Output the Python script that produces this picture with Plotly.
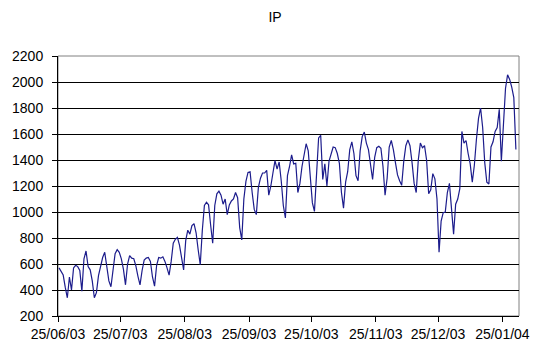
import pandas as pd
import plotly.graph_objects as go

start_date = "2003-06-25 12:00"
ip_values = [
    570, 545, 515, 420, 340, 500, 400, 570, 590, 580,
    550, 390, 640, 700, 580, 555, 470, 340, 380, 510,
    590, 650, 690, 560, 470, 425, 560, 680, 710, 690,
    640, 560, 440, 600, 665, 645, 640, 585, 505, 440,
    550, 630, 645, 650, 620, 500, 430, 590, 650, 645,
    655, 620, 570, 515, 620, 760, 790, 805, 745, 640,
    555, 780, 860, 830, 895, 910, 840, 710, 595, 860,
    1050, 1075, 1055, 900, 760, 1050, 1140, 1160, 1130, 1060,
    1100, 980, 1055, 1085, 1100, 1150, 1110, 880, 785, 1100,
    1235, 1305, 1310, 1150, 1020, 980, 1190, 1260, 1300, 1300,
    1320, 1130, 1200, 1300, 1395, 1330, 1385, 1240, 1050, 955,
    1280, 1350, 1440, 1370, 1375, 1150, 1220, 1350, 1450, 1525,
    1470, 1250, 1070, 1005, 1320, 1570, 1590, 1250, 1370, 1200,
    1390, 1450, 1500, 1495, 1450, 1375, 1150, 1030, 1230, 1310,
    1480, 1540, 1450, 1280, 1240, 1470, 1580, 1615, 1530, 1480,
    1350, 1250, 1420, 1495, 1505, 1490, 1350, 1130, 1260, 1500,
    1550, 1480, 1380, 1285, 1240, 1205, 1390, 1510, 1555, 1510,
    1380, 1220, 1150, 1400, 1530, 1495, 1510, 1400, 1140, 1170,
    1295, 1255, 1100, 690, 930, 995, 1000, 1150, 1220, 1030,
    830, 1060, 1100, 1180, 1620, 1530, 1550, 1450, 1370, 1230,
    1360, 1560, 1720, 1800, 1650, 1380, 1230, 1215, 1500, 1540,
    1620, 1650, 1790, 1390, 1700, 1950, 2055, 2020, 1960, 1880,
    1480,
]
tick_dates = ["2003-06-25", "2003-07-25", "2003-08-25", "2003-09-25",
              "2003-10-25", "2003-11-25", "2003-12-25", "2004-01-25"]
tick_labels = ["25/06/03", "25/07/03", "25/08/03", "25/09/03",
               "25/10/03", "25/11/03", "25/12/03", "25/01/04"]
y_ticks = list(range(200, 2201, 200))

dates = pd.date_range(start_date, periods=len(ip_values), freq="D")

fig = go.Figure()
fig.add_trace(go.Scatter(x=dates, y=ip_values, mode="lines",
                         line=dict(color="#1c1c8c", width=1.2),
                         hoverinfo="skip", showlegend=False))

font_family = "Liberation Sans, Arial, sans-serif"
fig.update_layout(
    width=550, height=354,
    margin=dict(l=52, r=31, t=56, b=38),
    paper_bgcolor="white", plot_bgcolor="white",
    title=dict(text="IP", x=0.5, xref="container", xanchor="center",
               y=1 - 17 / 354, yref="container", yanchor="middle",
               font=dict(family=font_family, size=14, color="black")),
    font=dict(family=font_family, size=14, color="black"),
    xaxis=dict(range=["2003-06-25", "2004-02-02"], tickvals=tick_dates,
               ticktext=tick_labels, showgrid=False, zeroline=False,
               showline=True, linecolor="black", linewidth=1,
               ticks="outside", ticklen=5, tickcolor="black",
               tickfont=dict(family=font_family, size=14, color="black")),
    yaxis=dict(range=[200, 2200], tickvals=y_ticks, showgrid=True,
               gridcolor="black", gridwidth=1, zeroline=False,
               showline=True, linecolor="black", linewidth=1,
               ticks="outside", ticklen=5, tickcolor="black",
               ticklabelstandoff=6,
               tickfont=dict(family=font_family, size=14, color="black")),
    shapes=[dict(type="rect", xref="paper", yref="paper", x0=0, y0=0, x1=1, y1=1,
                 line=dict(color="#808080", width=1), layer="below")],
)

fig.write_html("out.html", config={"displayModeBar": False},
               post_script="document.body.style.margin='0';document.body.style.overflow='hidden';")
